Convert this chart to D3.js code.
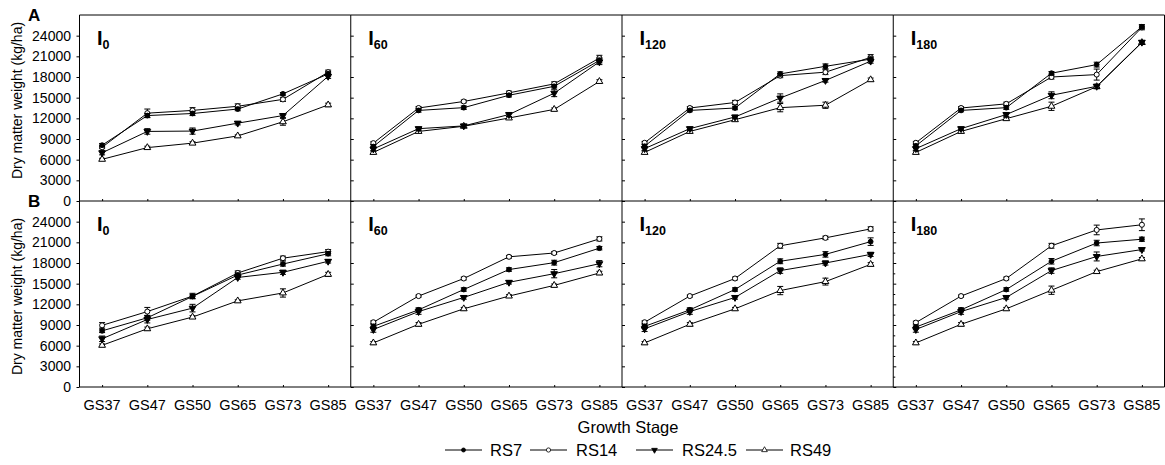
<!DOCTYPE html>
<html>
<head>
<meta charset="utf-8">
<script src="https://cdn.jsdelivr.net/npm/d3@7"></script>
<style>
	body { margin: 0; background: #fff; }
	svg { display: block; font-family: "Liberation Sans", Arial, sans-serif; }
	.frame { stroke: #000; stroke-width: 1; fill: none; }
	.line { fill: none; stroke: #000; stroke-width: 1; }
	.err { stroke: #000; stroke-width: 1; }
</style>
</head>
<body>
<div id="chart"></div>
<script>

var stages = ["GS37", "GS47", "GS50", "GS65", "GS73", "GS85"];
var seriesNames = ["RS7", "RS14", "RS24.5", "RS49"];
var irrigation = ["0", "60", "120", "180"];
var rowNames = ["A", "B"];
var yTicks = [0, 3000, 6000, 9000, 12000, 15000, 18000, 21000, 24000];

// row A, series order RS7, RS14, RS24.5, RS49
var a_I0 = [
	[8100, 12400, 12700, 13350, 15550, 18450],
	[7800, 12750, 13150, 13750, 14750, 18700],
	[7000, 10100, 10150, 11300, 12400, 18100],
	[6050, 7750, 8400, 9450, 11500, 13950]
];
var a_I0_se = [
	[250, 300, 300, 250, 200, 300],
	[200, 600, 400, 350, 300, 300],
	[300, 400, 450, 250, 300, 300],
	[150, 200, 200, 150, 500, 250]
];
var a_I60 = [
	[7900, 13150, 13550, 15350, 16650, 20400],
	[8400, 13500, 14450, 15700, 17000, 20750],
	[7550, 10500, 10900, 12550, 15650, 20200],
	[7050, 10100, 10850, 12050, 13300, 17350]
];
var a_I60_se = [
	[250, 250, 250, 250, 250, 350],
	[200, 200, 200, 250, 300, 400],
	[250, 250, 250, 300, 500, 400],
	[200, 250, 200, 200, 200, 250]
];
var a_I120 = [
	[7950, 13150, 13500, 18450, 19550, 20600],
	[8450, 13500, 14300, 18200, 18700, 20850],
	[7600, 10500, 12200, 14950, 17500, 20300],
	[7050, 10100, 11800, 13550, 13900, 17600]
];
var a_I120_se = [
	[250, 200, 250, 300, 350, 300],
	[200, 200, 300, 300, 350, 400],
	[250, 250, 250, 600, 250, 300],
	[200, 250, 250, 600, 450, 250]
];
var a_I180 = [
	[8000, 13150, 13550, 18550, 19800, 25300],
	[8450, 13500, 14100, 18000, 18350, 25200],
	[7600, 10500, 12550, 15350, 16650, 23050],
	[7050, 10100, 11950, 13750, 16600, 23000]
];
var a_I180_se = [
	[250, 200, 250, 250, 350, 300],
	[200, 200, 250, 300, 800, 350],
	[250, 250, 300, 500, 300, 250],
	[200, 250, 200, 600, 300, 250]
];

// row B
var b_I0 = [
	[8150, 10050, 13150, 16250, 17850, 19350],
	[8950, 10950, 13200, 16550, 18700, 19650],
	[7000, 9800, 11450, 15900, 16650, 18250],
	[6050, 8450, 10150, 12500, 13650, 16350]
];
var b_I0_se = [
	[250, 350, 300, 300, 300, 300],
	[400, 600, 400, 300, 300, 300],
	[400, 500, 550, 250, 300, 250],
	[200, 250, 200, 150, 600, 300]
];
var b_I60 = [
	[8800, 11200, 14150, 17050, 18050, 20150],
	[9400, 13200, 15750, 18900, 19450, 21500],
	[8350, 10950, 13000, 15200, 16450, 17900],
	[6400, 9100, 11350, 13200, 14750, 16550]
];
var b_I60_se = [
	[300, 300, 250, 250, 350, 250],
	[200, 150, 200, 200, 200, 300],
	[400, 400, 250, 250, 600, 450],
	[200, 250, 200, 200, 200, 250]
];
var b_I120 = [
	[8800, 11200, 14150, 18250, 19250, 21100],
	[9400, 13200, 15750, 20500, 21650, 22950],
	[8450, 10950, 13000, 16900, 18000, 19250],
	[6400, 9100, 11350, 14000, 15300, 17800]
];
var b_I120_se = [
	[300, 300, 250, 350, 400, 550],
	[200, 150, 200, 350, 250, 300],
	[400, 400, 250, 400, 300, 300],
	[200, 250, 200, 600, 500, 250]
];
var b_I180 = [
	[8700, 11200, 14150, 18250, 20900, 21450],
	[9350, 13200, 15750, 20500, 22800, 23550],
	[8350, 10950, 13000, 16900, 18950, 19950],
	[6400, 9100, 11350, 14050, 16750, 18600]
];
var b_I180_se = [
	[300, 300, 250, 400, 400, 300],
	[200, 150, 200, 350, 700, 850],
	[400, 400, 250, 400, 650, 200],
	[200, 250, 200, 600, 200, 200]
];

var panels = [
	{ row: 0, col: 0, means: a_I0, se: a_I0_se },
	{ row: 0, col: 1, means: a_I60, se: a_I60_se },
	{ row: 0, col: 2, means: a_I120, se: a_I120_se },
	{ row: 0, col: 3, means: a_I180, se: a_I180_se },
	{ row: 1, col: 0, means: b_I0, se: b_I0_se },
	{ row: 1, col: 1, means: b_I60, se: b_I60_se },
	{ row: 1, col: 2, means: b_I120, se: b_I120_se },
	{ row: 1, col: 3, means: b_I180, se: b_I180_se }
];

var width = 1165, height = 465;
var left = 79.5, right = 1164.5;
var rowTop = [15, 201];
var rowH = 186;
var panelW = (right - left) / 4;

var svg = d3.select("#chart").append("svg")
	.attr("width", width)
	.attr("height", height);

var y = d3.scaleLinear().domain([0, 27000]).range([rowH, 0]);
var x = d3.scalePoint().domain(stages).range([0, panelW]).padding(0.5);

// marker shapes per series: filled circle, open circle, filled down triangle, open up triangle
var symbols = [
	{ type: d3.symbolCircle, size: 18, fill: "#000", rot: 0 },
	{ type: d3.symbolCircle, size: 20, fill: "#fff", rot: 0 },
	{ type: d3.symbolTriangle, size: 20, fill: "#000", rot: 180 },
	{ type: d3.symbolTriangle, size: 20, fill: "#fff", rot: 0 }
];

function drawPanel(p) {
	var g = svg.append("g")
		.attr("transform", "translate(" + (left + p.col * panelW) + "," + rowTop[p.row] + ")");

	// left edge, ticks inside (first column ticks cross the axis)
	g.append("line").attr("class", "frame")
		.attr("x1", 0).attr("x2", 0).attr("y1", 0).attr("y2", rowH);

	var yAxis = d3.axisLeft(y).tickValues(yTicks).tickSize(p.col == 0 ? 3 : -3).tickFormat("");
	var ya = g.append("g").call(yAxis);
	ya.select(".domain").remove();
	if (p.row == 1 && p.col == 3) {
		// this one has minor ticks too
		var minor = d3.range(1500, 25500, 3000);
		g.append("g").call(d3.axisLeft(y).tickValues(minor).tickSize(-2).tickFormat(""))
			.select(".domain").remove();
	}

	// bottom axis, small ticks pointing up
	var xa = g.append("g").attr("transform", "translate(0," + rowH + ")")
		.call(d3.axisBottom(x).tickSize(-2).tickFormat(""));
	xa.select(".domain").remove();
	g.append("line").attr("class", "frame")
		.attr("x1", 0).attr("x2", panelW).attr("y1", rowH).attr("y2", rowH);

	if (p.row == 0) {
		g.append("line").attr("class", "frame")
			.attr("x1", 0).attr("x2", panelW).attr("y1", 0).attr("y2", 0);
	}
	if (p.col == 3) {
		g.append("line").attr("class", "frame")
			.attr("x1", panelW).attr("x2", panelW).attr("y1", 0).attr("y2", rowH);
	}

	if (p.col == 0) {
		g.append("g").selectAll("text")
			.data(yTicks)
			.enter()
			.append("text")
			.attr("x", -8.5)
			.attr("y", function(d) { return y(d) + 5; })
			.attr("text-anchor", "end")
			.style("font-size", "14px")
			.text(function(d) { return d; });
	}

	if (p.row == 1) {
		g.append("g").selectAll("text")
			.data(stages)
			.enter()
			.append("text")
			.attr("x", function(d) { return x(d); })
			.attr("y", 209)
			.attr("text-anchor", "middle")
			.style("font-size", "14.5px")
			.text(function(d) { return d; });
	}

	// panel label I with subscript
	var lab = g.append("text")
		.attr("x", 17.5)
		.attr("y", 30)
		.style("font-weight", "bold")
		.style("font-size", "20px");
	lab.append("tspan").text("I");
	lab.append("tspan")
		.attr("dy", 4)
		.style("font-size", "12.5px")
		.text(irrigation[p.col]);

	var line = d3.line()
		.x(function(d, i) { return x(stages[i]); })
		.y(function(d) { return y(d); });

	for (var s = seriesNames.length - 1; s >= 0; s--) {
		g.append("path").attr("class", "line").attr("d", line(p.means[s]));
	}

	for (var s = seriesNames.length - 1; s >= 0; s--) {
		var pts = p.means[s].map(function(v, i) { return { stage: stages[i], v: v, e: p.se[s][i] }; });
		var eg = g.append("g");
		eg.selectAll("line.v").data(pts).enter().append("line").attr("class", "err")
			.attr("x1", function(d) { return x(d.stage); })
			.attr("x2", function(d) { return x(d.stage); })
			.attr("y1", function(d) { return y(d.v - d.e); })
			.attr("y2", function(d) { return y(d.v + d.e); });
		eg.selectAll("line.t").data(pts).enter().append("line").attr("class", "err")
			.attr("x1", function(d) { return x(d.stage) - 3; })
			.attr("x2", function(d) { return x(d.stage) + 3; })
			.attr("y1", function(d) { return y(d.v + d.e); })
			.attr("y2", function(d) { return y(d.v + d.e); });
		eg.selectAll("line.b").data(pts).enter().append("line").attr("class", "err")
			.attr("x1", function(d) { return x(d.stage) - 3; })
			.attr("x2", function(d) { return x(d.stage) + 3; })
			.attr("y1", function(d) { return y(d.v - d.e); })
			.attr("y2", function(d) { return y(d.v - d.e); });

		var sym = symbols[s];
		eg.selectAll("path").data(pts).enter().append("path")
			.attr("d", d3.symbol().type(sym.type).size(sym.size))
			.attr("transform", function(d) {
				return "translate(" + x(d.stage) + "," + y(d.v) + ") rotate(" + sym.rot + ")";
			})
			.attr("fill", sym.fill)
			.attr("stroke", "#000")
			.attr("stroke-width", 1);
	}
}

panels.forEach(drawPanel);

// row letters and y titles
var titleY = [100.5, 296.5];
rowNames.forEach(function(r, i) {
	svg.append("text")
		.attr("x", 28)
		.attr("y", rowTop[i] + 6)
		.style("font-weight", "bold")
		.style("font-size", "17px")
		.text(r);
	svg.append("text")
		.attr("transform", "translate(22," + titleY[i] + ") rotate(-90)")
		.attr("text-anchor", "middle")
		.style("font-size", "14px")
		.text("Dry matter weight (kg/ha)");
});

svg.append("text")
	.attr("x", 628)
	.attr("y", 433)
	.attr("text-anchor", "middle")
	.style("font-size", "16.5px")
	.text("Growth Stage");

// legend
var legendLineX = [445, 530, 636, 746];
var legendTextX = [490, 576, 682, 790];
var legY = 450;
seriesNames.forEach(function(name, i) {
	var lg = svg.append("g");
	lg.append("line").attr("class", "line")
		.attr("x1", legendLineX[i]).attr("x2", legendLineX[i] + 37)
		.attr("y1", legY).attr("y2", legY);
	var sym = symbols[i];
	lg.append("path")
		.attr("d", d3.symbol().type(sym.type).size(sym.size * 0.7))
		.attr("transform", "translate(" + (legendLineX[i] + 18.5) + "," + legY + ") rotate(" + sym.rot + ")")
		.attr("fill", sym.fill)
		.attr("stroke", "#000")
		.attr("stroke-width", 0.8);
	lg.append("text")
		.attr("x", legendTextX[i])
		.attr("y", legY + 6)
		.style("font-size", "16.5px")
		.text(name);
});

</script>
</body>
</html>
